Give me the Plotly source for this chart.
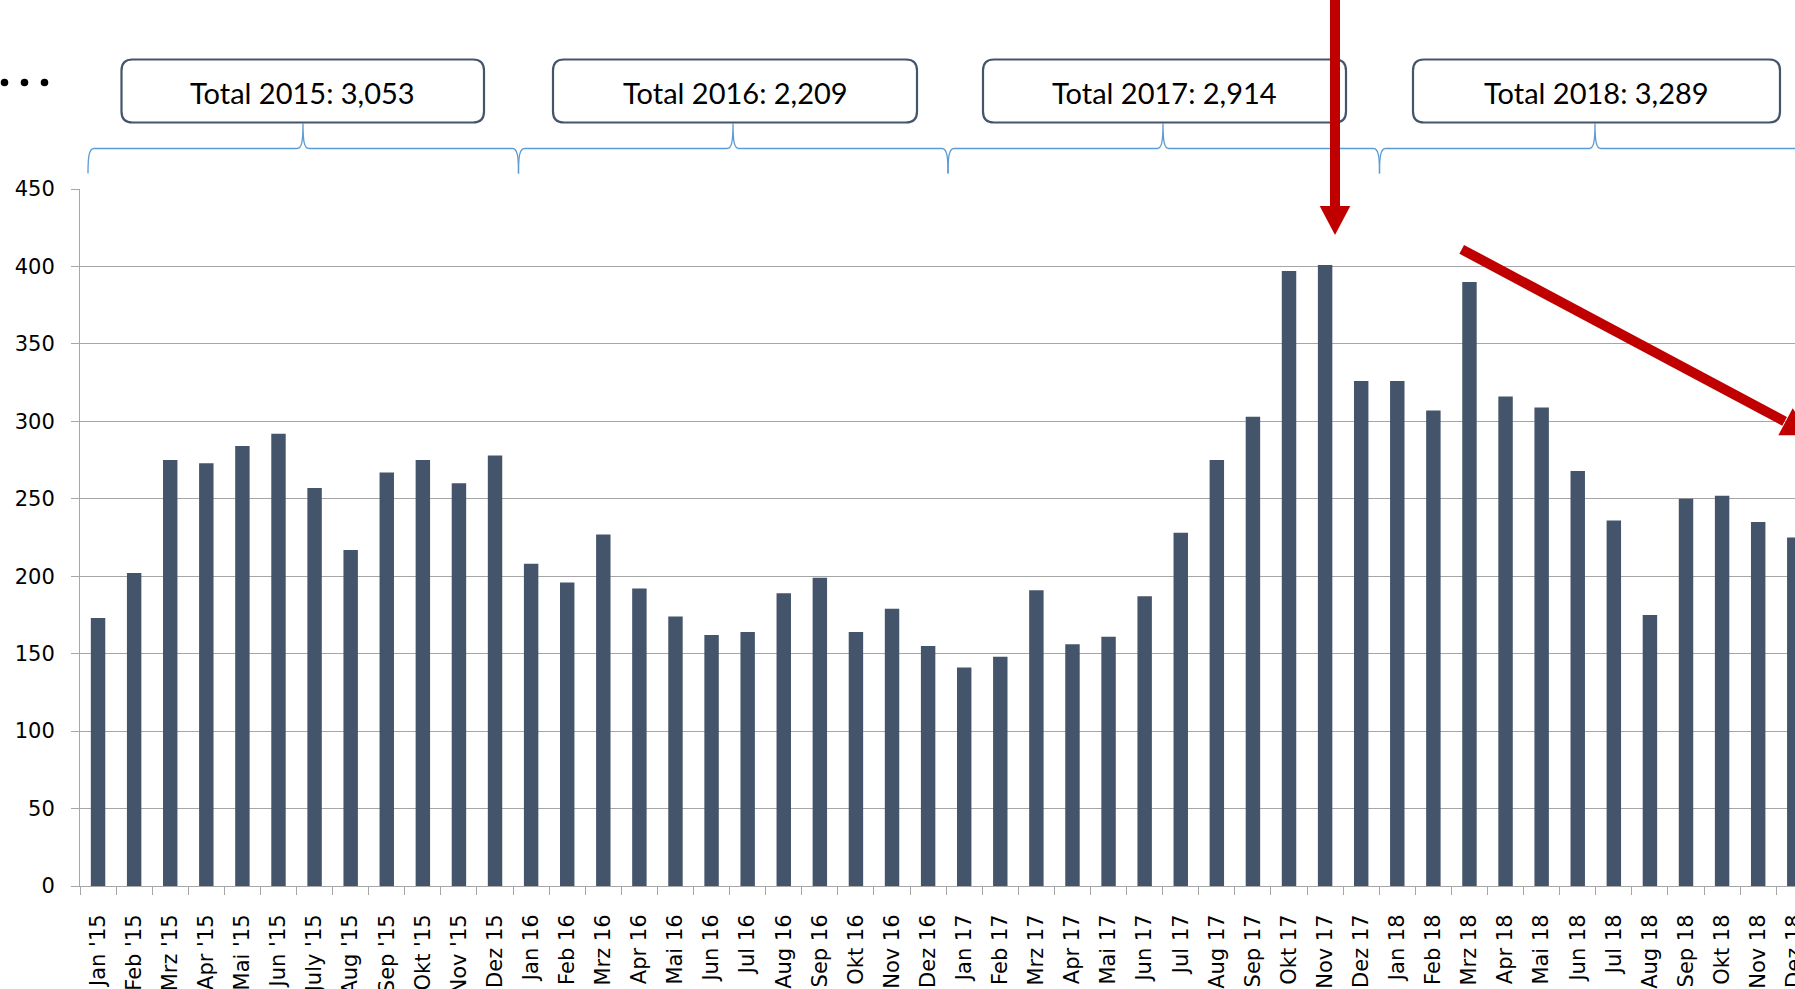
import plotly.graph_objects as go

# ---------------- data ----------------
months = ["Jan '15", "Feb '15", "Mrz '15", "Apr '15", "Mai '15", "Jun '15",
          "July '15", "Aug '15", "Sep '15", "Okt '15", "Nov '15", "Dez 15",
          "Jan 16", "Feb 16", "Mrz 16", "Apr 16", "Mai 16", "Jun 16",
          "Jul 16", "Aug 16", "Sep 16", "Okt 16", "Nov 16", "Dez 16",
          "Jan 17", "Feb 17", "Mrz 17", "Apr 17", "Mai 17", "Jun 17",
          "Jul 17", "Aug 17", "Sep 17", "Okt 17", "Nov 17", "Dez 17",
          "Jan 18", "Feb 18", "Mrz 18", "Apr 18", "Mai 18", "Jun 18",
          "Jul 18", "Aug 18", "Sep 18", "Okt 18", "Nov 18", "Dez 18"]

values_2015 = [173, 202, 275, 273, 284, 292, 257, 217, 267, 275, 260, 278]
values_2016 = [208, 196, 227, 192, 174, 162, 164, 189, 199, 164, 179, 155]
values_2017 = [141, 148, 191, 156, 161, 187, 228, 275, 303, 397, 401, 326]
values_2018 = [326, 307, 390, 316, 309, 268, 236, 175, 250, 252, 235, 225]

total_labels = ["Total 2015: 3,053", "Total 2016: 2,209",
                "Total 2017: 2,914", "Total 2018: 3,289"]

y_ticks = [0, 50, 100, 150, 200, 250, 300, 350, 400, 450]

values = values_2015 + values_2016 + values_2017 + values_2018

# ---------------- layout geometry (pixels) ----------------
W, H = 1795, 989
L, R, T, B = 80, 0, 189, 103
PW, PH = W - L - R, H - T - B


def px(x):
    return (x - L) / PW


def py(y):
    return (H - B - y) / PH


def path_from(cmds):
    out = []
    for c in cmds:
        if isinstance(c, str):
            out.append(c)
        else:
            out.append(f"{px(c[0]):.5f},{py(c[1]):.5f}")
    return " ".join(out)


BAR = "#44546A"
GRID = "#A6A6A6"
BRACE = "#5B9BD5"
RED = "#C00000"

fig = go.Figure()
fig.add_trace(go.Bar(x=months, y=values, marker=dict(color=BAR, line=dict(width=0)),
                     hoverinfo="x+y"))

shapes = []
annotations = []

# rounded boxes with totals
box_x = [(121.5, 484.0), (553.0, 917.0), (983.0, 1346.0), (1413.0, 1780.0)]
y0b, y1b, rr = 59.5, 122.5, 11
for (x0, x1), label in zip(box_x, total_labels):
    p = path_from(["M", (x0 + rr, y0b), "L", (x1 - rr, y0b), "Q", (x1, y0b), (x1, y0b + rr),
                   "L", (x1, y1b - rr), "Q", (x1, y1b), (x1 - rr, y1b),
                   "L", (x0 + rr, y1b), "Q", (x0, y1b), (x0, y1b - rr),
                   "L", (x0, y0b + rr), "Q", (x0, y0b), (x0 + rr, y0b), "Z"])
    shapes.append(dict(type="path", xref="paper", yref="paper", path=p,
                       fillcolor="white", line=dict(color=BAR, width=2.2), layer="above"))
    annotations.append(dict(xref="paper", yref="paper", x=px((x0 + x1) / 2), y=py(92),
                            text=label, showarrow=False, xanchor="center", yanchor="middle",
                            font=dict(family="Lato", size=29, color="black")))

# curly braces
brace_ends = [(88.0, 518.5), (518.5, 948.0), (948.0, 1379.5), (1379.5, 1810.0)]
brace_centers = [303.0, 733.0, 1163.0, 1595.0]
yh, ye, yt = 148.5, 173.5, 123.0
for (x0, x1), xc in zip(brace_ends, brace_centers):
    p = path_from(["M", (x0, ye), "C", (x0, yh + 8), (x0 + 1, yh), (x0 + 6, yh),
                   "L", (xc - 6, yh), "C", (xc - 1, yh), (xc, yh - 8), (xc, yt),
                   "C", (xc, yh - 8), (xc + 1, yh), (xc + 6, yh),
                   "L", (x1 - 6, yh), "C", (x1 - 1, yh), (x1, yh + 8), (x1, ye)])
    shapes.append(dict(type="path", xref="paper", yref="paper", path=p,
                       line=dict(color=BRACE, width=1.3), layer="above"))

# three dots
for cx in [4.5, 24.5, 44.5]:
    r = 3.8
    shapes.append(dict(type="circle", xref="paper", yref="paper",
                       x0=px(cx - r), x1=px(cx + r), y0=py(82.5 + r), y1=py(82.5 - r),
                       fillcolor="black", line=dict(width=0), layer="above"))

# vertical red arrow
ax = 1335.0
shapes.append(dict(type="line", xref="paper", yref="paper", x0=px(ax), x1=px(ax),
                   y0=py(-5), y1=py(208), line=dict(color=RED, width=10), layer="above"))
shapes.append(dict(type="path", xref="paper", yref="paper",
                   path=path_from(["M", (ax - 15.3, 206), "L", (ax + 15.3, 206), "L", (ax, 235), "Z"]),
                   fillcolor=RED, line=dict(width=0), layer="above"))

# diagonal red arrow
sx, sy = 1461.7, 249.3
bx, by = 1785.5, 421.8
dx, dy = bx - sx, by - sy
ln = (dx * dx + dy * dy) ** 0.5
ux, uy = dx / ln, dy / ln
nx, ny = -uy, ux
shapes.append(dict(type="line", xref="paper", yref="paper", x0=px(sx), y0=py(sy),
                   x1=px(bx - ux), y1=py(by - uy), line=dict(color=RED, width=10), layer="above"))
hw, hl = 15.3, 28.6
shapes.append(dict(type="path", xref="paper", yref="paper",
                   path=path_from(["M", (bx + hw * nx, by + hw * ny), "L", (bx - hw * nx, by - hw * ny),
                                   "L", (bx + hl * ux, by + hl * uy), "Z"]),
                   fillcolor=RED, line=dict(width=0), layer="above"))

fig.update_layout(
    width=W, height=H, autosize=False,
    margin=dict(l=L, r=R, t=T, b=B, pad=0, autoexpand=False),
    plot_bgcolor="white", paper_bgcolor="white",
    bargap=0.6, showlegend=False,
    shapes=shapes, annotations=annotations,
    font=dict(family="DejaVu Sans", size=21, color="black"),
)
fig.update_xaxes(type="category", categoryorder="array", categoryarray=months,
                 range=[-0.5, 47.02], tickangle=-90, tickson="boundaries",
                 ticks="outside", ticklen=8, tickcolor=GRID, tickwidth=1,
                 showline=True, linecolor=GRID, linewidth=1, showgrid=False,
                 tickfont=dict(family="DejaVu Sans", size=21, color="black"),
                 ticklabelstandoff=19, automargin=False)
fig.update_yaxes(range=[0, 450], tickvals=y_ticks, showgrid=True, gridcolor=GRID, gridwidth=1,
                 showline=True, linecolor=GRID, linewidth=1, ticks="outside", ticklen=8,
                 tickcolor=GRID, zeroline=False,
                 tickfont=dict(family="DejaVu Sans", size=21, color="black"),
                 ticklabelstandoff=12, automargin=False)

fig.write_html("out.html",
               config={"displayModeBar": False},
               post_script="document.body.style.margin='0';document.body.style.overflow='hidden';")
